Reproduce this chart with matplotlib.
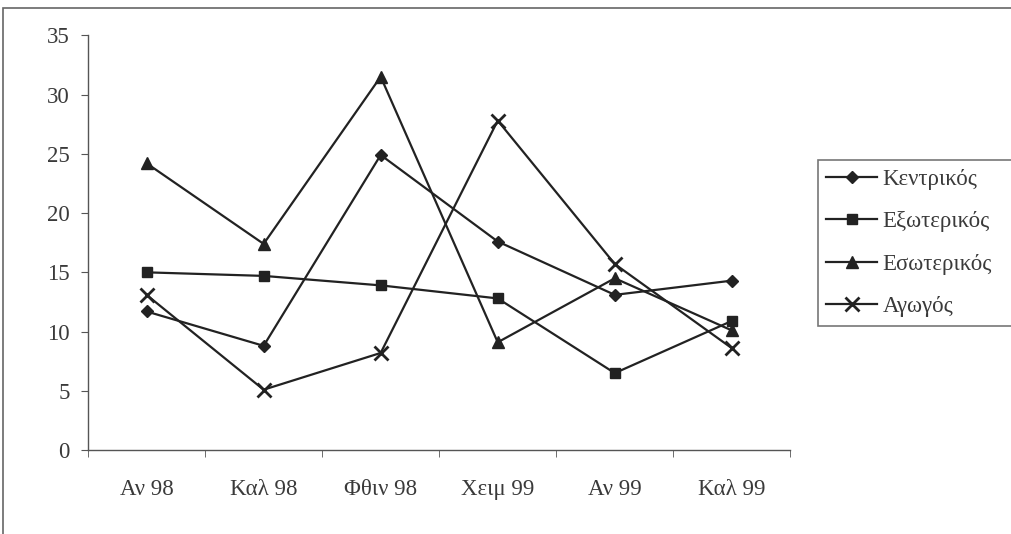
import matplotlib
matplotlib.use("Agg")
import matplotlib.pyplot as plt
from matplotlib.patches import Rectangle

categories = ["Αν 98", "Καλ 98", "Φθιν 98", "Χειμ 99", "Αν 99", "Καλ 99"]
kentrikos = [11.7, 8.8, 24.9, 17.6, 13.1, 14.3]
exoterikos = [15.0, 14.7, 13.9, 12.8, 6.5, 10.9]
esoterikos = [24.2, 17.4, 31.5, 9.1, 14.5, 10.1]
agogos = [13.1, 5.1, 8.2, 27.8, 15.7, 8.6]
yticks = [0, 5, 10, 15, 20, 25, 30, 35]

plt.rcParams['font.family'] = ['Liberation Serif', 'DejaVu Serif']

fig = plt.figure(figsize=(10.12, 5.34), dpi=100)
ax = fig.add_axes([0.087, 0.157, 0.694, 0.777])

x = list(range(len(categories)))
lc = '#222222'
ax.plot(x, kentrikos, color=lc, lw=1.6, marker='D', ms=6.5, mfc=lc, mec=lc, label='Κεντρικός')
ax.plot(x, exoterikos, color=lc, lw=1.6, marker='s', ms=7.5, mfc=lc, mec=lc, label='Εξωτερικός')
ax.plot(x, esoterikos, color=lc, lw=1.6, marker='^', ms=8.5, mfc=lc, mec=lc, label='Εσωτερικός')
ax.plot(x, agogos, color=lc, lw=1.6, marker='x', ms=10, mew=2, mec=lc, label='Αγωγός')

ax.set_xlim(-0.5, len(categories) - 0.5)
ax.set_ylim(0, 35)
ax.set_yticks(yticks)
ax.set_yticklabels([str(v) for v in yticks], fontsize=16.5, color='#3a3a3a')
ax.set_xticks(x)
ax.set_xticklabels(categories, fontsize=16.5, color='#3a3a3a')
ax.tick_params(axis='x', which='major', length=0, pad=21)
ax.set_xticks([i - 0.5 for i in range(len(categories) + 1)], minor=True)
ax.tick_params(axis='x', which='minor', length=5, direction='out', color='#555555')
ax.tick_params(axis='y', length=5, direction='out', color='#555555', pad=8)

for s in ['top', 'right']:
    ax.spines[s].set_visible(False)
for s in ['left', 'bottom']:
    ax.spines[s].set_color('#555555')
    ax.spines[s].set_linewidth(1.0)

leg = ax.legend(loc='upper left', bbox_to_anchor=(0.808, 0.391, 0.21, 0.309),
                bbox_transform=fig.transFigure, mode='expand', fontsize=16.5,
                frameon=True, fancybox=False, edgecolor='#555555',
                handlelength=2.2, handletextpad=0.25, labelspacing=0.93,
                borderpad=0.38, borderaxespad=0)
leg.get_frame().set_linewidth(1.2)
for t in leg.get_texts():
    t.set_color('#3a3a3a')

# outer chart border
fig.patches.append(Rectangle((0.003, -0.01), 1.0, 0.995, transform=fig.transFigure,
                             fill=False, edgecolor='#666666', lw=1.2))

fig.savefig('out.png', dpi=100)
